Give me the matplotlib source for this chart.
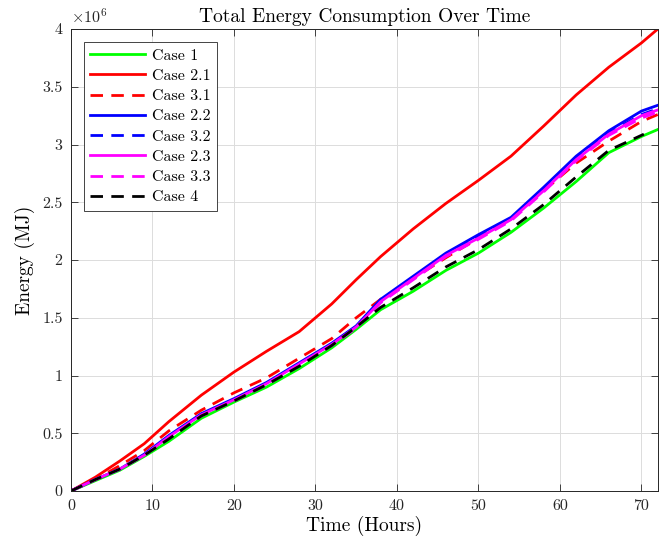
import matplotlib
matplotlib.use("Agg")
import matplotlib.pyplot as plt

# energy values in units of 1e6 MJ
t = [0, 3, 6, 9, 12, 16, 20, 24, 28, 32, 35, 38, 42, 46, 50, 54, 58, 62, 66, 70, 72]
t_case4 = [0, 3, 6, 9, 12, 16, 20, 24, 28, 32, 35, 38, 42, 46, 50, 54, 58, 62, 66, 70.3]

case1 = [0, 0.09, 0.18, 0.30, 0.43, 0.63, 0.77, 0.90, 1.06, 1.24, 1.40, 1.57, 1.73, 1.91, 2.06, 2.24, 2.45, 2.68, 2.93, 3.07, 3.13]
case2_1 = [0, 0.12, 0.26, 0.41, 0.60, 0.83, 1.03, 1.21, 1.38, 1.62, 1.83, 2.03, 2.27, 2.49, 2.69, 2.90, 3.16, 3.43, 3.67, 3.88, 4.00]
case3_1 = [0, 0.10, 0.22, 0.35, 0.52, 0.70, 0.85, 0.98, 1.15, 1.32, 1.50, 1.66, 1.84, 2.02, 2.19, 2.36, 2.60, 2.84, 3.03, 3.20, 3.26]
case2_2 = [0, 0.10, 0.19, 0.32, 0.48, 0.67, 0.80, 0.94, 1.11, 1.28, 1.43, 1.66, 1.86, 2.06, 2.22, 2.37, 2.63, 2.90, 3.12, 3.29, 3.34]
case3_2 = [0, 0.10, 0.19, 0.31, 0.47, 0.66, 0.79, 0.93, 1.10, 1.27, 1.42, 1.64, 1.84, 2.04, 2.20, 2.35, 2.61, 2.88, 3.10, 3.26, 3.31]
case2_3 = [0, 0.10, 0.19, 0.31, 0.47, 0.66, 0.79, 0.93, 1.10, 1.27, 1.42, 1.64, 1.84, 2.04, 2.19, 2.35, 2.60, 2.87, 3.09, 3.25, 3.30]
case3_3 = [0, 0.10, 0.19, 0.31, 0.46, 0.65, 0.78, 0.92, 1.09, 1.26, 1.41, 1.63, 1.83, 2.03, 2.18, 2.34, 2.59, 2.86, 3.08, 3.23, 3.28]
case4 = [0, 0.10, 0.19, 0.31, 0.45, 0.65, 0.78, 0.92, 1.08, 1.26, 1.42, 1.59, 1.76, 1.94, 2.09, 2.27, 2.48, 2.72, 2.95, 3.09]

plt.rcParams["font.family"] = "cmr10"
plt.rcParams["mathtext.fontset"] = "cm"
plt.rcParams["axes.unicode_minus"] = False

fig = plt.figure(figsize=(6.63, 5.46), dpi=100)
ax = fig.add_axes([0.107, 0.1007, 0.885, 0.846])

lw = 2.0
dash = (4.5, 3)
ax.plot(t, case1, color=(0, 1, 0), lw=lw, label="Case 1")
ax.plot(t, case2_1, color=(1, 0, 0), lw=lw, label="Case 2.1")
ax.plot(t, case3_1, color=(1, 0, 0), lw=lw, dashes=dash, label="Case 3.1")
ax.plot(t, case2_2, color=(0, 0, 1), lw=lw, label="Case 2.2")
ax.plot(t, case3_2, color=(0, 0, 1), lw=lw, dashes=dash, label="Case 3.2")
ax.plot(t, case2_3, color=(1, 0, 1), lw=lw, label="Case 2.3")
ax.plot(t, case3_3, color=(1, 0, 1), lw=lw, dashes=dash, label="Case 3.3")
ax.plot(t_case4, case4, color="black", lw=lw, dashes=dash, label="Case 4")

ax.set_xlim(0, 72)
ax.set_ylim(0, 4)
ax.set_xticks(range(0, 71, 10))
ax.set_yticks([0, 0.5, 1, 1.5, 2, 2.5, 3, 3.5, 4])
ax.set_yticklabels(["0", "0.5", "1", "1.5", "2", "2.5", "3", "3.5", "4"])
ax.tick_params(direction="in", top=True, right=True, length=5, width=0.6,
               labelsize=11.5, colors="#262626", pad=6)
ax.grid(True, color="#dcdcdc", lw=0.7)
ax.set_axisbelow(True)
for s in ax.spines.values():
    s.set_color("#262626")
    s.set_linewidth(0.7)

ax.text(0, 1.008, r"$\times10^{6}$", transform=ax.transAxes, ha="left", va="bottom",
        fontsize=11.5, color="#262626")
ax.set_title("Total Energy Consumption Over Time", fontsize=14, pad=5)
ax.set_xlabel("Time (Hours)", fontsize=14, labelpad=2)
ax.set_ylabel("Energy (MJ)", fontsize=14, labelpad=5)

leg = ax.legend(loc="upper left", bbox_to_anchor=(0.022, 0.972), fontsize=11.5,
                handlelength=3.4, handletextpad=0.45, labelspacing=0.38,
                borderpad=0.4, fancybox=False, framealpha=1, borderaxespad=0)
leg.get_frame().set_edgecolor("#262626")
leg.get_frame().set_linewidth(0.6)

fig.savefig("out.png", dpi=100)
